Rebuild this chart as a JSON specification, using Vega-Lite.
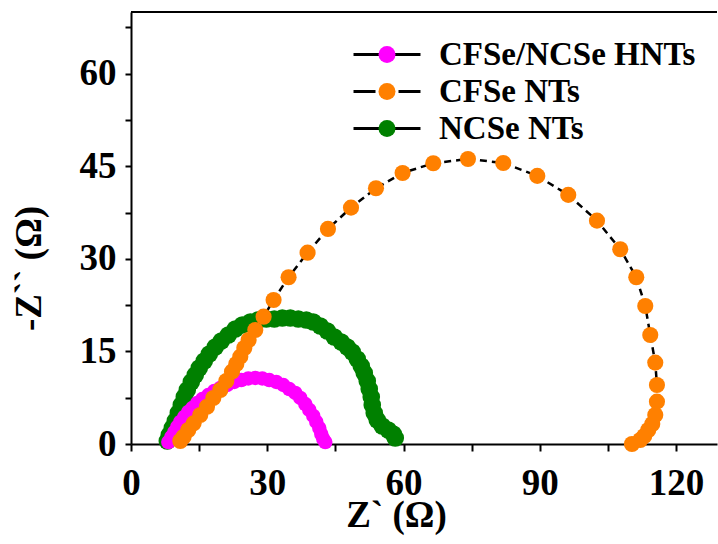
{
"$schema": "https://vega.github.io/schema/vega-lite/v6.json",
"width": 586, "height": 432,
"autosize": {"type": "none"},
"padding": {"left": 131, "top": 12, "right": 1, "bottom": 100},
"config": {"view": {"stroke": null}, "font": "Liberation Serif",
"axis": {"grid": false, "domainColor": "black", "domainWidth": 2, "tickColor": "black", "tickWidth": 2, "labelFont": "Liberation Serif", "labelFontWeight": "bold", "labelFontSize": 37, "labelColor": "black", "labelFlush": false, "labelOverlap": false, "titleFont": "Liberation Serif", "titleFontSize": 37, "titleFontWeight": "bold", "titleColor": "black"},
"axisX": {"tickSize": 7, "labelPadding": 14, "titleX": 265, "titleY": 82, "titleBaseline": "alphabetic", "titleAlign": "center"},
"axisY": {"tickSize": 6, "labelPadding": 9, "titleAngle": 270, "titleX": -91, "titleY": 256, "titleBaseline": "alphabetic", "titleAlign": "center"}
},
"datasets": {
"pts": [
{"s":"NCSe NTs","x":7.99,"y":0.49},{"s":"NCSe NTs","x":8.43,"y":1.46},{"s":"NCSe NTs","x":9.09,"y":2.59},{"s":"NCSe NTs","x":9.75,"y":3.73},{"s":"NCSe NTs","x":10.41,"y":5.02},{"s":"NCSe NTs","x":11.07,"y":6.32},{"s":"NCSe NTs","x":11.73,"y":7.62},{"s":"NCSe NTs","x":12.39,"y":8.75},{"s":"NCSe NTs","x":13.27,"y":10.05},{"s":"NCSe NTs","x":14.15,"y":11.18},{"s":"NCSe NTs","x":15.03,"y":12.32},{"s":"NCSe NTs","x":16.13,"y":13.45},{"s":"NCSe NTs","x":17.24,"y":14.59},{"s":"NCSe NTs","x":18.56,"y":15.72},{"s":"NCSe NTs","x":19.88,"y":16.69},{"s":"NCSe NTs","x":21.42,"y":17.67},{"s":"NCSe NTs","x":22.96,"y":18.64},{"s":"NCSe NTs","x":24.5,"y":19.29},{"s":"NCSe NTs","x":26.26,"y":19.77},{"s":"NCSe NTs","x":28.02,"y":20.1},{"s":"NCSe NTs","x":29.79,"y":20.26},{"s":"NCSe NTs","x":31.55,"y":20.26},{"s":"NCSe NTs","x":33.31,"y":20.42},{"s":"NCSe NTs","x":35.07,"y":20.42},{"s":"NCSe NTs","x":36.83,"y":20.26},{"s":"NCSe NTs","x":38.59,"y":20.1},{"s":"NCSe NTs","x":40.13,"y":19.77},{"s":"NCSe NTs","x":41.67,"y":19.12},{"s":"NCSe NTs","x":43.21,"y":18.31},{"s":"NCSe NTs","x":44.75,"y":17.34},{"s":"NCSe NTs","x":46.29,"y":16.53},{"s":"NCSe NTs","x":47.61,"y":15.72},{"s":"NCSe NTs","x":48.71,"y":14.91},{"s":"NCSe NTs","x":49.81,"y":13.78},{"s":"NCSe NTs","x":50.69,"y":12.64},{"s":"NCSe NTs","x":51.35,"y":11.51},{"s":"NCSe NTs","x":52.01,"y":10.21},{"s":"NCSe NTs","x":52.45,"y":8.91},{"s":"NCSe NTs","x":52.89,"y":7.62},{"s":"NCSe NTs","x":53.11,"y":6.32},{"s":"NCSe NTs","x":53.55,"y":5.02},{"s":"NCSe NTs","x":54.21,"y":3.89},{"s":"NCSe NTs","x":55.31,"y":2.92},{"s":"NCSe NTs","x":56.63,"y":2.27},{"s":"NCSe NTs","x":57.73,"y":1.62},{"s":"NCSe NTs","x":58.17,"y":0.97},
{"s":"CFSe/NCSe HNTs","x":8.21,"y":0.32},{"s":"CFSe/NCSe HNTs","x":8.87,"y":1.13},{"s":"CFSe/NCSe HNTs","x":9.53,"y":1.94},{"s":"CFSe/NCSe HNTs","x":10.19,"y":2.76},{"s":"CFSe/NCSe HNTs","x":10.85,"y":3.57},{"s":"CFSe/NCSe HNTs","x":11.73,"y":4.38},{"s":"CFSe/NCSe HNTs","x":12.61,"y":5.19},{"s":"CFSe/NCSe HNTs","x":13.49,"y":5.83},{"s":"CFSe/NCSe HNTs","x":14.59,"y":6.65},{"s":"CFSe/NCSe HNTs","x":15.69,"y":7.29},{"s":"CFSe/NCSe HNTs","x":17.02,"y":7.94},{"s":"CFSe/NCSe HNTs","x":18.34,"y":8.59},{"s":"CFSe/NCSe HNTs","x":19.66,"y":9.08},{"s":"CFSe/NCSe HNTs","x":21.2,"y":9.56},{"s":"CFSe/NCSe HNTs","x":22.74,"y":10.05},{"s":"CFSe/NCSe HNTs","x":24.28,"y":10.37},{"s":"CFSe/NCSe HNTs","x":25.82,"y":10.62},{"s":"CFSe/NCSe HNTs","x":27.36,"y":10.7},{"s":"CFSe/NCSe HNTs","x":28.9,"y":10.62},{"s":"CFSe/NCSe HNTs","x":30.44,"y":10.37},{"s":"CFSe/NCSe HNTs","x":31.98,"y":10.05},{"s":"CFSe/NCSe HNTs","x":33.52,"y":9.56},{"s":"CFSe/NCSe HNTs","x":34.85,"y":8.91},{"s":"CFSe/NCSe HNTs","x":36.17,"y":8.27},{"s":"CFSe/NCSe HNTs","x":37.27,"y":7.46},{"s":"CFSe/NCSe HNTs","x":38.37,"y":6.48},{"s":"CFSe/NCSe HNTs","x":39.25,"y":5.51},{"s":"CFSe/NCSe HNTs","x":40.13,"y":4.54},{"s":"CFSe/NCSe HNTs","x":40.79,"y":3.57},{"s":"CFSe/NCSe HNTs","x":41.45,"y":2.59},{"s":"CFSe/NCSe HNTs","x":41.89,"y":1.62},{"s":"CFSe/NCSe HNTs","x":42.33,"y":0.81},{"s":"CFSe/NCSe HNTs","x":42.77,"y":0.32},
{"s":"CFSe NTs","x":10.85,"y":0.49},{"s":"CFSe NTs","x":11.58,"y":1.18},{"s":"CFSe NTs","x":12.61,"y":2.27},{"s":"CFSe NTs","x":13.78,"y":3.35},{"s":"CFSe NTs","x":15.25,"y":4.7},{"s":"CFSe NTs","x":16.73,"y":6.03},{"s":"CFSe NTs","x":18.12,"y":7.46},{"s":"CFSe NTs","x":19.66,"y":8.75},{"s":"CFSe NTs","x":20.98,"y":10.21},{"s":"CFSe NTs","x":22.23,"y":11.72},{"s":"CFSe NTs","x":23.18,"y":12.97},{"s":"CFSe NTs","x":24.06,"y":14.15},{"s":"CFSe NTs","x":24.94,"y":15.56},{"s":"CFSe NTs","x":25.89,"y":16.86},{"s":"CFSe NTs","x":27.36,"y":18.48},{"s":"CFSe NTs","x":29.19,"y":20.63},{"s":"CFSe NTs","x":31.39,"y":23.34},{"s":"CFSe NTs","x":34.69,"y":27.02},{"s":"CFSe NTs","x":38.87,"y":31.0},{"s":"CFSe NTs","x":43.36,"y":34.85},{"s":"CFSe NTs","x":48.43,"y":38.3},{"s":"CFSe NTs","x":53.93,"y":41.44},{"s":"CFSe NTs","x":59.79,"y":43.92},{"s":"CFSe NTs","x":66.54,"y":45.49},{"s":"CFSe NTs","x":74.18,"y":46.19},{"s":"CFSe NTs","x":81.95,"y":45.54},{"s":"CFSe NTs","x":89.44,"y":43.44},{"s":"CFSe NTs","x":96.26,"y":40.36},{"s":"CFSe NTs","x":102.58,"y":36.19},{"s":"CFSe NTs","x":107.7,"y":31.56},{"s":"CFSe NTs","x":111.23,"y":27.02},{"s":"CFSe NTs","x":113.21,"y":22.37},{"s":"CFSe NTs","x":114.31,"y":17.67},{"s":"CFSe NTs","x":115.41,"y":13.19},{"s":"CFSe NTs","x":115.78,"y":9.56},{"s":"CFSe NTs","x":115.78,"y":6.86},{"s":"CFSe NTs","x":115.41,"y":4.7},{"s":"CFSe NTs","x":114.75,"y":3.24},{"s":"CFSe NTs","x":113.87,"y":2.27},{"s":"CFSe NTs","x":112.99,"y":1.3},{"s":"CFSe NTs","x":112.11,"y":0.65},{"s":"CFSe NTs","x":110.28,"y":0.0}
]
},
"data": {"name": "pts"},
"encoding": {
"x": {"field": "x", "type": "quantitative", "scale": {"domain": [0, 129], "nice": false, "zero": false},
"axis": {"title": "Z` (Ω)", "values": [0,15,30,45,60,75,90,105,120], "labelExpr": "datum.value % 30 === 0 ? datum.label : ''"}},
"y": {"field": "y", "type": "quantitative", "scale": {"domain": [0, 70], "nice": false},
"axis": {"title": "-Z`` (Ω)", "values": [0,7.5,15,22.5,30,37.5,45,52.5,60,67.5], "labelExpr": "datum.value % 15 === 0 ? datum.label : ''"}}
},
"layer": [
{
"transform": [{"filter": "datum.s !== 'CFSe NTs'"}],
"mark": {"type": "line", "color": "black", "strokeWidth": 2.5},
"encoding": {
"strokeDash": {"field": "s", "type": "nominal", "scale": {"domain": ["CFSe/NCSe HNTs", "CFSe NTs", "NCSe NTs"], "range": [[1,0],[22,23],[1,0]]},
"legend": {"title": null, "orient": "none", "legendX": 239.5, "legendY": 26, "symbolType": "M-3.94,0H3.94", "symbolSize": 289, "symbolStrokeColor": "black", "symbolStrokeWidth": 3, "labelFont": "Liberation Serif", "labelFontWeight": "bold", "labelFontSize": 33, "labelColor": "transparent", "labelOffset": 35.5, "rowPadding": 3, "padding": 0, "zindex": 1}},
"order": {"value": null}
}
},
{
"transform": [{"filter": "datum.s === 'CFSe NTs'"}],
"mark": {"type": "line", "color": "black", "strokeWidth": 2.5, "strokeDash": [7, 5]},
"encoding": {"order": {"value": null}}
},
{
"mark": {"type": "point", "filled": true, "opacity": 1, "strokeWidth": 0},
"encoding": {
"color": {"field": "s", "type": "nominal", "sort": ["CFSe/NCSe HNTs", "CFSe NTs", "NCSe NTs"], "scale": {"range": ["#FF00FF", "#FF8000", "#008000"]},
"legend": {"title": null, "orient": "none", "legendX": 239.5, "legendY": 26, "symbolType": "circle", "symbolSize": 289, "symbolStrokeWidth": 0, "symbolOpacity": 1, "labelFont": "Liberation Serif", "labelFontWeight": "bold", "labelFontSize": 33, "labelColor": "black", "labelOffset": 35.5, "labelLimit": 400, "rowPadding": 3, "padding": 0, "zindex": 2}},
"size": {"field": "s", "type": "nominal", "sort": ["CFSe/NCSe HNTs", "CFSe NTs", "NCSe NTs"], "scale": {"range": [210, 310, 225]}, "legend": null}
}
},
{
"data": {"values": [{"top": 70}]},
"mark": {"type": "rule", "color": "black", "strokeWidth": 2},
"encoding": {"x": null, "y": {"field": "top", "type": "quantitative"}}
}
]
}
